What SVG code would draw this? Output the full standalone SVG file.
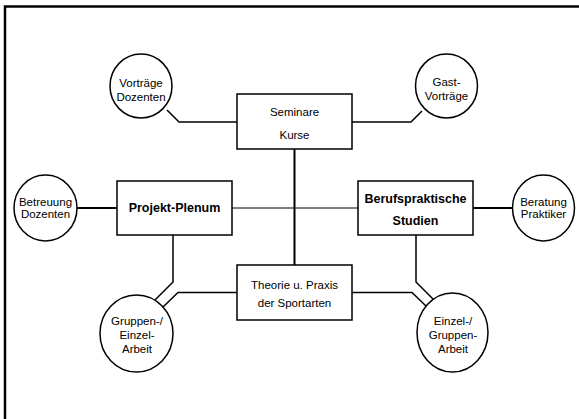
<svg xmlns="http://www.w3.org/2000/svg" width="579" height="419" viewBox="0 0 579 419">
<style>
.frame{fill:none;stroke:#000;stroke-width:2.5}
.box{fill:#fff;stroke:#000;stroke-width:1.5}
.circ{fill:#fff;stroke:#000;stroke-width:1.5}
.con{fill:none;stroke:#000;stroke-width:1.5}
.thick{stroke-width:2}
.thin{stroke-width:1}
text{font-family:"Liberation Sans",Arial,sans-serif;font-size:11.5px;fill:#000;text-anchor:middle}
.b{font-weight:bold;font-size:12.5px}
</style>
<rect width="579" height="419" fill="#fff"/>
<path class="frame" d="M5,425 V6.5 H585"/>
<g id="connectors">
<polyline class="con" points="167,110 179,122 237,122"/>
<polyline class="con" points="352,122 411,122 422,111"/>
<line class="con thick" x1="294.5" y1="149" x2="294.5" y2="265"/>
<line class="con thin" x1="232" y1="208" x2="358" y2="208"/>
<line class="con thick" x1="77" y1="208" x2="117" y2="208"/>
<line class="con thick" x1="473" y1="208" x2="513" y2="208"/>
<polyline class="con" points="173,235 173,282 155,300"/>
<polyline class="con" points="237,292.5 178,292.5 163,307"/>
<polyline class="con" points="416,235 416,282 433,299"/>
<polyline class="con" points="352,292.5 412,292.5 426,306"/>
</g>
<g id="seminare">
<rect class="box" x="237" y="94" width="115" height="55"/>
<text x="294.5" y="116">Seminare</text>
<text x="294.5" y="139">Kurse</text>
</g>
<g id="projekt">
<rect class="box" x="117" y="181" width="115" height="54"/>
<text class="b" x="174.5" y="212">Projekt-Plenum</text>
</g>
<g id="beruf">
<rect class="box" x="358" y="181" width="115" height="54"/>
<text class="b" x="415.5" y="203">Berufspraktische</text>
<text class="b" x="415.5" y="225">Studien</text>
</g>
<g id="theorie">
<rect class="box" x="237" y="265" width="115" height="55"/>
<text x="294.5" y="289">Theorie u. Praxis</text>
<text x="294.5" y="307">der Sportarten</text>
</g>
<g id="vortraege">
<ellipse class="circ" cx="141" cy="86" rx="31" ry="32"/>
<text x="141" y="87">Vorträge</text>
<text x="141" y="101">Dozenten</text>
</g>
<g id="gast">
<ellipse class="circ" cx="446.5" cy="86" rx="31" ry="32"/>
<text x="446.5" y="86">Gast-</text>
<text x="446.5" y="100">Vorträge</text>
</g>
<g id="betreuung">
<ellipse class="circ" cx="45.5" cy="208" rx="31.5" ry="33"/>
<text x="45.5" y="206">Betreuung</text>
<text x="45.5" y="218">Dozenten</text>
</g>
<g id="beratung">
<ellipse class="circ" cx="543.5" cy="208" rx="31" ry="33"/>
<text x="543.5" y="206">Beratung</text>
<text x="543.5" y="218">Praktiker</text>
</g>
<g id="gruppen">
<ellipse class="circ" cx="136.5" cy="333.5" rx="36.5" ry="38.5"/>
<text x="137" y="325">Gruppen-/</text>
<text x="137" y="339">Einzel-</text>
<text x="137" y="353">Arbeit</text>
</g>
<g id="einzel">
<ellipse class="circ" cx="452.5" cy="332.5" rx="35.5" ry="39.5"/>
<text x="453" y="325">Einzel-/</text>
<text x="453" y="339">Gruppen-</text>
<text x="453" y="353">Arbeit</text>
</g>
</svg>
